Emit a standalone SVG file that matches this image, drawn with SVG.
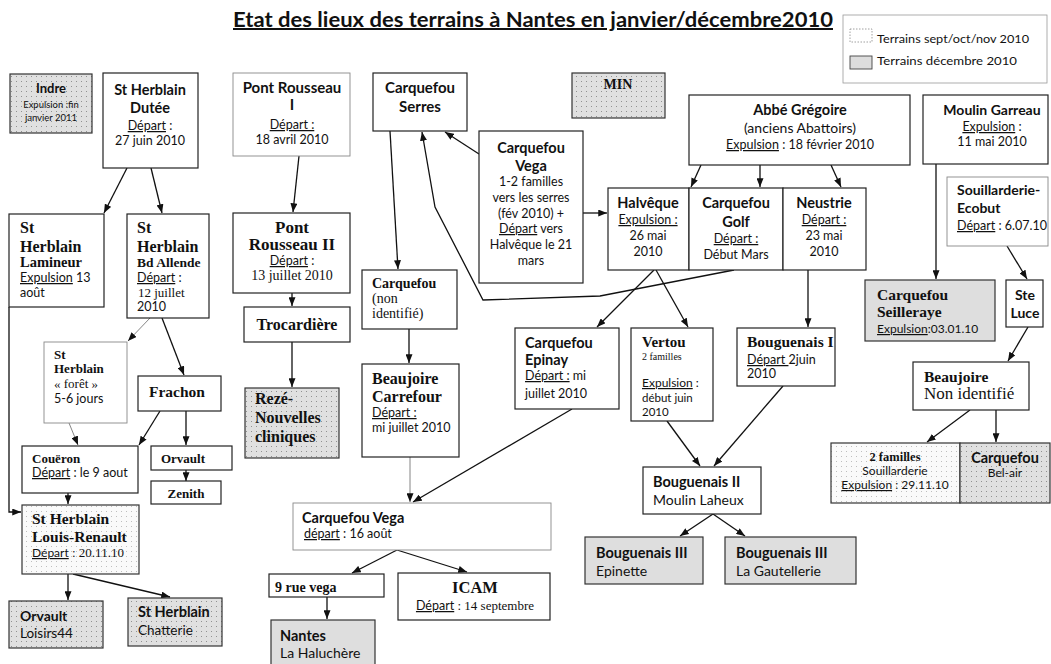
<svg xmlns="http://www.w3.org/2000/svg" width="1051" height="664" viewBox="0 0 1051 664">
<style>
.b{fill:#fff;stroke:#222;stroke-width:1.2}
.th{fill:#fff;stroke:#888;stroke-width:0.9}
.g{fill:#dedede;stroke:#333;stroke-width:1.2}
.dg{fill:url(#dotG);stroke:#333;stroke-width:1.2}
.dw{fill:url(#dotW);stroke:#333;stroke-width:1.2}
text{fill:#111}
.sb{font-family:Lato,"Liberation Sans",sans-serif;font-weight:bold}
.s{font-family:Lato,"Liberation Sans",sans-serif}
.tb{font-family:"Liberation Serif",serif;font-weight:bold}
.t{font-family:"Liberation Serif",serif}
.m{text-anchor:middle}
.u{text-decoration:underline}
.c{fill:none;stroke:#111;stroke-width:1.3;marker-end:url(#a)}
.cg{fill:none;stroke:#777;stroke-width:0.9;marker-end:url(#a)}
</style>
<defs>
<marker id="a" viewBox="0 0 10 8" refX="10" refY="4" markerWidth="9" markerHeight="7" markerUnits="userSpaceOnUse" orient="auto"><path d="M0,0 L10,4 L0,8z" fill="#111"/></marker>
<pattern id="dotG" width="5" height="5" patternUnits="userSpaceOnUse"><rect width="5" height="5" fill="#e0e0e0"/><circle cx="1.5" cy="1.5" r="0.5" fill="#777"/></pattern>
<pattern id="dotW" width="5" height="5" patternUnits="userSpaceOnUse"><rect width="5" height="5" fill="#fafafa"/><circle cx="1.5" cy="1.5" r="0.5" fill="#aaa"/></pattern>
</defs>
<rect width="1051" height="664" fill="#fff"/>
<text x="533" y="27" class="sb m u" font-size="20" textLength="600" lengthAdjust="spacingAndGlyphs">Etat des lieux des terrains à Nantes en janvier/décembre2010</text>
<g id="legend">
<rect x="843" y="15" width="204" height="68" fill="#fff" stroke="#999" stroke-width="0.8"/>
<rect x="850" y="29" width="22" height="13" fill="#fff" stroke="#888" stroke-width="0.8" stroke-dasharray="1.5 1.5"/>
<rect x="850" y="56" width="22" height="13" fill="#ddd" stroke="#444" stroke-width="0.9"/>
<text x="877" y="43" class="s" font-size="11.5" textLength="152" lengthAdjust="spacingAndGlyphs">Terrains sept/oct/nov 2010</text>
<text x="877" y="65" class="s" font-size="11.5" textLength="140" lengthAdjust="spacingAndGlyphs">Terrains  décembre  2010</text>
</g>
<g id="connectors">
<path class="c" d="M127,168 L104,213"/>
<path class="c" d="M151,168 L162,213"/>
<path class="c" d="M9,307 L9,512 L21,512"/>
<path class="cg" d="M150,318 L128,341"/>
<path class="c" d="M162,318 L184,375"/>
<path class="cg" d="M69,423 L78,445"/>
<path class="c" d="M160,411 L139,445"/>
<path class="c" d="M186,411 L186,445"/>
<path class="c" d="M186,470 L186,481"/>
<path class="c" d="M68,493 L68,504"/>
<path class="c" d="M68,574 L68,600"/>
<path class="c" d="M73,574 L170,597"/>
<path class="c" d="M299,156 L293,212"/>
<path class="c" d="M292,293 L292,306"/>
<path class="c" d="M292,342 L292,387"/>
<path class="c" d="M390,131 L398,269"/>
<path class="c" d="M479,154 L445,132"/>
<path class="c" d="M734,270 L600,296 L483,300 L435,207 L422,132"/>
<path class="c" d="M583,213 L607,213"/>
<path class="c" d="M701,165 L691,187"/>
<path class="c" d="M760,165 L760,187"/>
<path class="c" d="M831,165 L841,187"/>
<path class="c" d="M654,270 L597,327"/>
<path class="c" d="M656,270 L688,327"/>
<path class="c" d="M808,270 L808,327"/>
<path class="c" d="M409,329 L409,363"/>
<path class="cg" d="M410,457 L410,502"/>
<path class="c" d="M572,409 L413,502"/>
<path class="c" d="M667,421 L700,466"/>
<path class="c" d="M783,386 L714,466"/>
<path class="c" d="M713,514 L680,536"/>
<path class="c" d="M713,514 L745,536"/>
<path class="c" d="M397,550 L352,573"/>
<path class="c" d="M397,550 L467,572"/>
<path class="c" d="M327,597 L327,619"/>
<path class="c" d="M936,164 L936,279"/>
<path class="c" d="M1007,246 L1027,279"/>
<path class="c" d="M1028,327 L1008,361"/>
<path class="c" d="M970,410 L927,442"/>
<path class="c" d="M996,410 L996,442"/>
</g>
<g id="indre"><rect x="10" y="74" width="82" height="59" class="dg"/>
<text x="51" y="93" class="sb m" font-size="13">Indre</text>
<text x="51" y="108" class="s m" font-size="9.5">Expulsion :fin</text>
<text x="51" y="121" class="s m" font-size="9.5">janvier 2011</text></g>
<g id="dutee"><rect x="103" y="73" width="95" height="95" class="b"/>
<text x="150" y="95" class="sb m" font-size="14.5">St Herblain</text>
<text x="150" y="113" class="sb m" font-size="14.5">Dutée</text>
<text x="150" y="130" class="s m" font-size="12.5"><tspan class="u">Départ</tspan> :</text>
<text x="150" y="145" class="s m" font-size="12.5">27 juin 2010</text></g>
<g id="pont1"><rect x="233" y="73" width="117" height="83" class="th"/>
<text x="292" y="93" class="sb m" font-size="15">Pont Rousseau</text>
<text x="292" y="110" class="sb m" font-size="15">I</text>
<text x="292" y="129" class="s m u" font-size="12.5">Départ :</text>
<text x="292" y="144" class="s m" font-size="12.5">18 avril 2010</text></g>
<g id="pont2"><rect x="233" y="213" width="117" height="80" class="b"/>
<text x="292" y="233" class="tb m" font-size="17">Pont</text>
<text x="292" y="250" class="tb m" font-size="17">Rousseau II</text>
<text x="292" y="265" class="s m" font-size="12.5"><tspan class="u">Départ</tspan> :</text>
<text x="292" y="280" class="t m" font-size="14">13 juillet 2010</text></g>
<g id="trocardiere"><rect x="244" y="307" width="106" height="35" class="b"/>
<text x="297" y="330" class="tb m" font-size="16">Trocardière</text></g>
<g id="reze"><rect x="245" y="388" width="94" height="70" class="dg"/>
<text x="255" y="404" class="tb" font-size="16">Rezé-</text>
<text x="255" y="423" class="tb" font-size="16">Nouvelles</text>
<text x="255" y="442" class="tb" font-size="16">cliniques</text></g>
<g id="serres"><rect x="373" y="73" width="94" height="58" class="b"/>
<text x="420" y="93" class="sb m" font-size="15">Carquefou</text>
<text x="420" y="112" class="sb m" font-size="15">Serres</text></g>
<g id="min"><rect x="572" y="73" width="93" height="45" class="dg"/>
<text x="618" y="89" class="tb m" font-size="14">MIN</text></g>
<g id="vega1"><rect x="479" y="131" width="104" height="152" class="b"/>
<text x="531" y="153" class="sb m" font-size="14.5">Carquefou</text>
<text x="531" y="171" class="sb m" font-size="14.5">Vega</text>
<text x="531" y="186" class="s m" font-size="12.5">1-2 familles</text>
<text x="531" y="202" class="s m" font-size="12.5">vers les serres</text>
<text x="531" y="218" class="s m" font-size="12.5">(fév 2010) +</text>
<text x="531" y="233" class="s m" font-size="12.5"><tspan class="u">Départ</tspan> vers</text>
<text x="531" y="249" class="s m" font-size="12.5">Halvêque le 21</text>
<text x="531" y="265" class="s m" font-size="12.5">mars</text></g>
<g id="abbe"><rect x="689" y="95" width="221" height="70" class="b"/>
<text x="800" y="115" class="sb m" font-size="14.5">Abbé Grégoire</text>
<text x="800" y="133" class="s m" font-size="14">(anciens Abattoirs)</text>
<text x="800" y="149" class="s m" font-size="12.5"><tspan class="u">Expulsion</tspan> : 18 février 2010</text></g>
<g id="moulin"><rect x="923" y="95" width="125" height="69" class="b"/>
<text x="992" y="115" class="sb m" font-size="14">Moulin Garreau</text>
<text x="992" y="131" class="s m" font-size="12.5"><tspan class="u">Expulsion</tspan> :</text>
<text x="992" y="146" class="s m" font-size="12.5">11 mai 2010</text></g>
<g id="halveque"><rect x="608" y="188" width="81" height="82" class="b"/>
<text x="648" y="208" class="sb m" font-size="14.5">Halvêque</text>
<text x="648" y="224" class="s m u" font-size="12.5">Expulsion :</text>
<text x="648" y="240" class="s m" font-size="12.5">26 mai</text>
<text x="648" y="256" class="s m" font-size="12.5">2010</text></g>
<g id="golf"><rect x="689" y="188" width="94" height="82" class="b"/>
<text x="736" y="208" class="sb m" font-size="14.5">Carquefou</text>
<text x="736" y="227" class="sb m" font-size="14.5">Golf</text>
<text x="736" y="243" class="s m u" font-size="12.5">Départ :</text>
<text x="736" y="259" class="s m" font-size="12.5">Début Mars</text></g>
<g id="neustrie"><rect x="783" y="188" width="83" height="82" class="b"/>
<text x="824" y="208" class="sb m" font-size="14.5">Neustrie</text>
<text x="824" y="224" class="s m u" font-size="12.5">Départ :</text>
<text x="824" y="240" class="s m" font-size="12.5">23 mai</text>
<text x="824" y="256" class="s m" font-size="12.5">2010</text></g>
<g id="souillarderie"><rect x="947" y="177" width="101" height="69" class="th"/>
<text x="957" y="195" class="sb" font-size="14">Souillarderie-</text>
<text x="957" y="213" class="sb" font-size="14">Ecobut</text>
<text x="957" y="230" class="s" font-size="12.5"><tspan class="u">Départ</tspan> : 6.07.10</text></g>
<g id="seilleraye"><rect x="865" y="280" width="130" height="61" class="g"/>
<text x="877" y="300" class="tb" font-size="15.5">Carquefou</text>
<text x="877" y="317" class="tb" font-size="15.5">Seilleraye</text>
<text x="877" y="333" class="s" font-size="12"><tspan class="u">Expulsion</tspan>:03.01.10</text></g>
<g id="steluce"><rect x="1006" y="280" width="37" height="47" class="b"/>
<text x="1025" y="300" class="sb m" font-size="14">Ste</text>
<text x="1025" y="318" class="sb m" font-size="14">Luce</text></g>
<g id="beaujoire"><rect x="913" y="362" width="116" height="48" class="b"/>
<text x="924" y="382" class="tb" font-size="15.5">Beaujoire</text>
<text x="924" y="399" class="t" font-size="17">Non identifié</text></g>
<g id="deuxfamilles"><rect x="831" y="443" width="129" height="60" class="dw"/>
<text x="895" y="461" class="tb m" font-size="12.5">2 familles</text>
<text x="895" y="475" class="s m" font-size="12">Souillarderie</text>
<text x="895" y="489" class="s m" font-size="12"><tspan class="u">Expulsion</tspan> : 29.11.10</text></g>
<g id="belair"><rect x="960" y="443" width="90" height="60" class="dg"/>
<text x="1005" y="463" class="sb m" font-size="14.5">Carquefou</text>
<text x="1005" y="477" class="s m" font-size="12">Bel-air</text></g>
<g id="epinay"><rect x="515" y="328" width="104" height="81" class="b"/>
<text x="525" y="348" class="sb" font-size="14.5">Carquefou</text>
<text x="525" y="365" class="sb" font-size="14.5">Epinay</text>
<text x="525" y="380" class="s" font-size="12.5"><tspan class="u">Départ :</tspan> mi</text>
<text x="525" y="398" class="s" font-size="12.5">juillet 2010</text></g>
<g id="vertou"><rect x="631" y="328" width="82" height="93" class="b"/>
<text x="642" y="347" class="tb" font-size="15">Vertou</text>
<text x="642" y="360" class="t" font-size="10">2 familles</text>
<text x="642" y="387" class="s" font-size="12"><tspan class="u">Expulsion</tspan> :</text>
<text x="642" y="402" class="s" font-size="11.5">début juin</text>
<text x="642" y="416" class="s" font-size="11.5">2010</text></g>
<g id="bouguenais1"><rect x="737" y="328" width="98" height="58" class="b"/>
<text x="747" y="347" class="tb" font-size="15.5">Bouguenais I</text>
<text x="747" y="364" class="s" font-size="12.5"><tspan class="u">Départ </tspan> 2juin</text>
<text x="747" y="378" class="s" font-size="12.5">2010</text></g>
<g id="carqnonid"><rect x="362" y="270" width="95" height="59" class="b"/>
<text x="372" y="288" class="tb" font-size="14">Carquefou</text>
<text x="372" y="303" class="t" font-size="14">(non</text>
<text x="372" y="318" class="t" font-size="14">identifié)</text></g>
<g id="beaujoirecarrefour"><rect x="362" y="364" width="97" height="93" class="b"/>
<text x="372" y="384" class="tb" font-size="16">Beaujoire</text>
<text x="372" y="402" class="tb" font-size="16">Carrefour</text>
<text x="372" y="417" class="s u" font-size="12.5">Départ :</text>
<text x="372" y="432" class="s" font-size="12.5">mi juillet 2010</text></g>
<g id="vega2"><rect x="293" y="503" width="258" height="47" class="th"/>
<text x="302" y="523" class="sb" font-size="14.5">Carquefou Vega</text>
<text x="304" y="538" class="s" font-size="12.5"><tspan class="u">départ</tspan> : 16 août</text></g>
<g id="rueVega"><rect x="269" y="574" width="115" height="23" class="b"/>
<text x="275" y="592" class="tb" font-size="14">9 rue vega</text></g>
<g id="icam"><rect x="398" y="573" width="152" height="47" class="b"/>
<text x="475" y="593" class="tb m" font-size="16.5">ICAM</text>
<text x="475" y="610" class="m" font-size="12.5"><tspan class="s u">Départ</tspan><tspan class="t" font-size="13"> : 14 septembre</tspan></text></g>
<g id="nantes"><rect x="271" y="620" width="104" height="50" class="g"/>
<text x="280" y="641" class="sb" font-size="14.5">Nantes</text>
<text x="280" y="658" class="s" font-size="14">La Haluchère</text></g>
<g id="bouguenais2"><rect x="643" y="467" width="118" height="47" class="b"/>
<text x="653" y="487" class="sb" font-size="14.5">Bouguenais II</text>
<text x="653" y="505" class="s" font-size="14">Moulin Laheux</text></g>
<g id="b3epinette"><rect x="585" y="537" width="118" height="47" class="g"/>
<text x="596" y="558" class="sb" font-size="14.5">Bouguenais III</text>
<text x="596" y="576" class="s" font-size="14">Epinette</text></g>
<g id="b3gautellerie"><rect x="725" y="537" width="131" height="47" class="g"/>
<text x="736" y="558" class="sb" font-size="14.5">Bouguenais III</text>
<text x="736" y="576" class="s" font-size="14">La Gautellerie</text></g>
<g id="lamineur"><rect x="9" y="214" width="95" height="93" class="b"/>
<text x="20" y="233" class="tb" font-size="16">St</text>
<text x="20" y="252" class="tb" font-size="16">Herblain</text>
<text x="20" y="267" class="tb" font-size="14.5">Lamineur</text>
<text x="20" y="282" class="s" font-size="12.5"><tspan class="u">Expulsion</tspan> 13</text>
<text x="20" y="297" class="s" font-size="12.5">août</text></g>
<g id="allende"><rect x="127" y="214" width="82" height="104" class="b"/>
<text x="137" y="233" class="tb" font-size="16">St</text>
<text x="137" y="252" class="tb" font-size="16">Herblain</text>
<text x="137" y="267" class="tb" font-size="13.5">Bd Allende</text>
<text x="137" y="282" class="s" font-size="12.5"><tspan class="u">Départ</tspan> :</text>
<text x="138" y="297" class="t" font-size="13"> 12 juillet</text>
<text x="137" y="311" class="s" font-size="12.5">2010</text></g>
<g id="foret"><rect x="44" y="342" width="83" height="81" class="th"/>
<text x="54" y="359" class="tb" font-size="13">St</text>
<text x="54" y="373" class="tb" font-size="13">Herblain</text>
<text x="54" y="388" class="t" font-size="13">« forêt »</text>
<text x="54" y="403" class="s" font-size="12.5">5-6 jours</text></g>
<g id="frachon"><rect x="138" y="376" width="83" height="35" class="b"/>
<text x="177" y="397" class="tb m" font-size="15.5">Frachon</text></g>
<g id="coueron"><rect x="22" y="446" width="116" height="47" class="b"/>
<text x="32" y="463" class="tb" font-size="13">Couëron</text>
<text x="32" y="477" class="s" font-size="12.5"><tspan class="u">Départ</tspan> : le 9 aout</text></g>
<g id="orvault"><rect x="151" y="446" width="81" height="24" class="b"/>
<text x="183" y="463" class="tb m" font-size="13">Orvault</text></g>
<g id="zenith"><rect x="151" y="481" width="70" height="23" class="b"/>
<text x="186" y="498" class="tb m" font-size="13">Zenith</text></g>
<g id="louisrenault"><rect x="22" y="505" width="117" height="69" class="dw"/>
<text x="32" y="524" class="tb" font-size="15.5">St Herblain</text>
<text x="32" y="542" class="tb" font-size="15.5">Louis-Renault</text>
<text x="32" y="557"><tspan class="s u" font-size="12">Départ</tspan><tspan class="t" font-size="13"> : 20.11.10</tspan></text></g>
<g id="loisirs"><rect x="9" y="601" width="94" height="47" class="dg"/>
<text x="20" y="621" class="sb" font-size="14">Orvault</text>
<text x="20" y="638" class="s" font-size="13.5">Loisirs44</text></g>
<g id="chatterie"><rect x="128" y="598" width="94" height="48" class="dg"/>
<text x="138" y="617" class="sb" font-size="14.5">St Herblain</text>
<text x="138" y="635" class="s" font-size="13.5">Chatterie</text></g>
</svg>
